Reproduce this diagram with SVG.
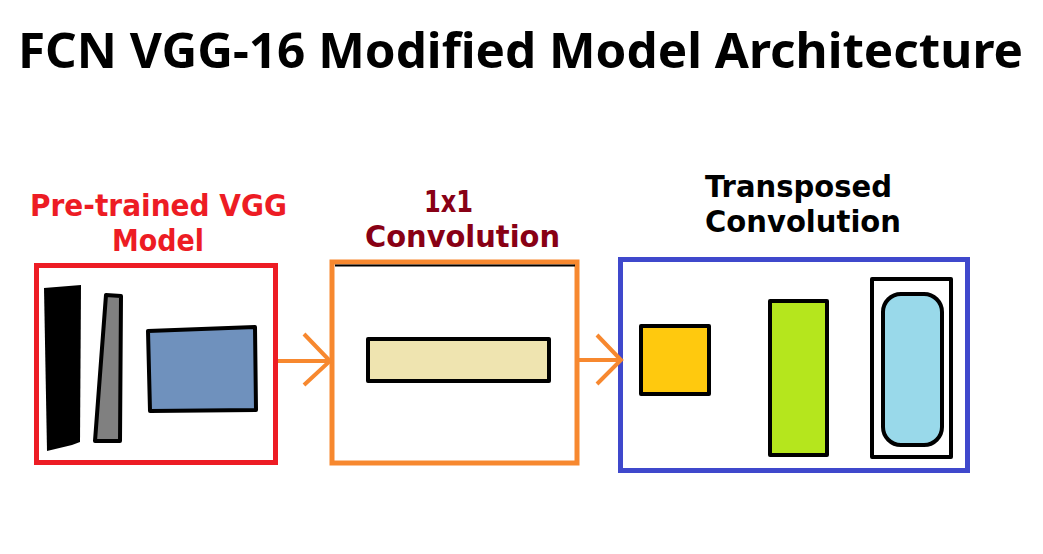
<svg xmlns="http://www.w3.org/2000/svg" width="1043" height="554" viewBox="0 0 1043 554">
<defs>
<style>
text{font-family:"DejaVu Sans","Verdana",sans-serif;font-weight:bold}
.title{font-family:"Noto Sans","DejaVu Sans",sans-serif;font-size:48px;fill:#000}
.lbl{font-size:30px}
.shape{stroke:#000;stroke-width:4;stroke-linejoin:round}
.conn{stroke:#f7882f;stroke-width:4;fill:none}
</style>
</defs>
<rect width="1043" height="554" fill="#fff"/>
<text class="title" x="18" y="68" textLength="1005" lengthAdjust="spacingAndGlyphs">FCN VGG-16 Modified Model Architecture</text>

<g id="pretrained">
<text class="lbl" x="30" y="216" fill="#ed1c24" textLength="257" lengthAdjust="spacingAndGlyphs">Pre-trained VGG</text>
<text class="lbl" x="112" y="251" fill="#ed1c24" textLength="92" lengthAdjust="spacingAndGlyphs">Model</text>
<rect x="36.5" y="265.5" width="239" height="197" fill="#fff" stroke="#ed1c24" stroke-width="5"/>
<polygon points="44,288 81,285 80,442 72,445 47,451" fill="#000"/>
<polygon class="shape" points="106,295 121,296 120,441 95,441" fill="#808080"/>
<polygon class="shape" points="148,331 255,327 256,410 150,411" fill="#6f91bd"/>
</g>

<g id="conv1x1">
<text class="lbl" x="424" y="212" fill="#880015" textLength="49" lengthAdjust="spacingAndGlyphs">1x1</text>
<text class="lbl" x="365" y="247" fill="#880015" textLength="195" lengthAdjust="spacingAndGlyphs">Convolution</text>
<rect x="332" y="262" width="245" height="201" fill="#fff" stroke="#f7882f" stroke-width="5"/>
<line x1="335" y1="265.5" x2="575" y2="265.5" stroke="#000" stroke-width="2"/>
<rect class="shape" x="368" y="339" width="181" height="42" fill="#efe4b0"/>
</g>

<g id="transposed">
<text class="lbl" x="705" y="197" fill="#000" textLength="187" lengthAdjust="spacingAndGlyphs">Transposed</text>
<text class="lbl" x="705" y="232" fill="#000" textLength="196" lengthAdjust="spacingAndGlyphs">Convolution</text>
<rect x="620.5" y="259.5" width="347" height="211" fill="#fff" stroke="#3f48cc" stroke-width="5"/>
<rect class="shape" x="641" y="326" width="68" height="68" fill="#ffc90e"/>
<rect class="shape" x="770" y="301" width="57" height="154" fill="#b5e61d"/>
<rect class="shape" x="872" y="279" width="79" height="178" fill="#fff"/>
<rect class="shape" x="883" y="294" width="59" height="151" rx="18" ry="18" fill="#99d9ea"/>
</g>

<g id="connectors">
<line class="conn" x1="278" y1="361" x2="329" y2="361"/>
<polyline class="conn" points="304,334 330,361 304,385"/>
<line class="conn" x1="579" y1="360" x2="620" y2="360"/>
<polyline class="conn" points="597,335 621,360 597,384"/>
</g>
</svg>
